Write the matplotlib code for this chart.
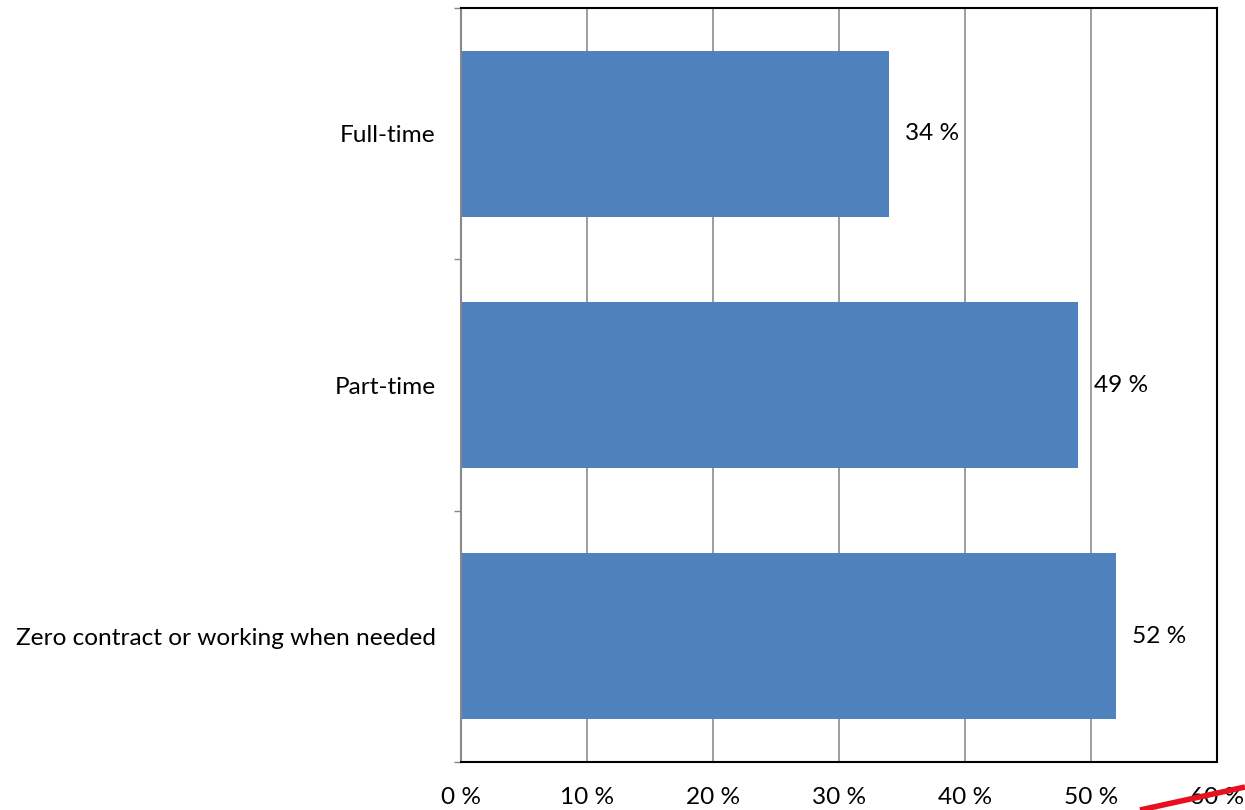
import matplotlib
matplotlib.use("Agg")
import matplotlib.pyplot as plt
from matplotlib.lines import Line2D

categories = ["Full-time", "Part-time", "Zero contract or working when needed"]
values = [34, 49, 52]
xticks = [0, 10, 20, 30, 40, 50, 60]
xtick_labels = ["0 %", "10 %", "20 %", "30 %", "40 %", "50 %", "60 %"]

plt.rcParams['font.family'] = ['Lato', 'DejaVu Sans']
FS = 17.6

fig = plt.figure(figsize=(12.45, 8.1), dpi=100)
ax = fig.add_axes([461/1245, 1 - 762/810, (1217 - 461)/1245, (762 - 8)/810])

ypos = list(range(len(categories)))
ax.barh(ypos, values, height=0.66, color="#4F81BD", zorder=2)
ax.set_ylim(len(categories) - 0.5, -0.5)
ax.set_xlim(0, 60)

for y, v in zip(ypos, values):
    ax.annotate(f"{v} %", xy=(v, y), xytext=(11.5, 0), textcoords="offset points",
                ha="left", va="center", fontsize=FS, color="black")

ax.set_yticks(ypos)
ax.set_yticklabels(categories, fontsize=FS)
ax.set_yticks([i - 0.5 for i in range(len(categories) + 1)], minor=True)
ax.tick_params(axis="y", which="major", length=0, pad=18)
ax.tick_params(axis="y", which="minor", length=5, width=1, color="#888888", direction="out")

ax.set_xticks(xticks)
ax.set_xticklabels(xtick_labels, fontsize=FS)
ax.tick_params(axis="x", which="major", length=0, pad=18)

ax.grid(axis="x", color="#8c8c8c", linewidth=1.2, zorder=0)
ax.set_axisbelow(True)

ax.spines["left"].set_color("#888888")
ax.spines["left"].set_linewidth(1.5)
for s in ["top", "right", "bottom"]:
    ax.spines[s].set_color("black")
    ax.spines[s].set_linewidth(1.5)

# red pen stroke at the bottom right
fig.add_artist(Line2D([1140/1245, 1245/1245], [0.0, 1 - 787/810],
                      transform=fig.transFigure, color="#e8101e", linewidth=4,
                      solid_capstyle="butt", zorder=5))

fig.savefig("out.png", dpi=100)
